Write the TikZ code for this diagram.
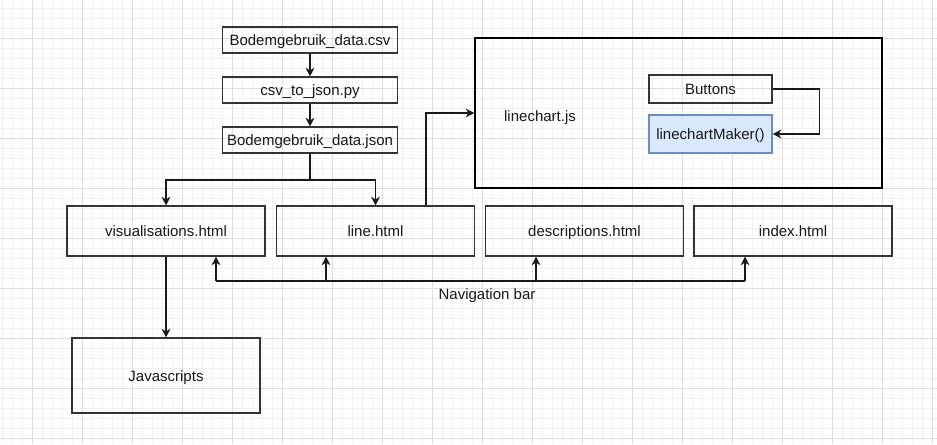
\documentclass[tikz,border=0pt]{standalone}
\usepackage{fontspec}
\setmainfont{Liberation Sans}
\usetikzlibrary{arrows.meta}
\definecolor{boxline}{HTML}{333333}
\definecolor{bluefill}{HTML}{DAE8FC}
\definecolor{blueline}{HTML}{6C8EBF}
\begin{document}
\begin{tikzpicture}[x=0.75pt, y=-0.75pt,
    every node/.style={font=\fontsize{11.25pt}{13pt}\selectfont, text=black!90, text height=10pt, text depth=1.4pt},
    file/.style={draw=boxline, line width=0.8pt, minimum width=131.25pt, minimum height=19.5pt, inner sep=0pt},
    page/.style={draw=boxline, line width=0.8pt, minimum width=148.5pt, minimum height=37.5pt, inner sep=0pt},
    link/.style={line width=1.1pt, black!90, -{Stealth[length=6.5pt, width=6.5pt, inset=2pt]}},
    gridminor/.style={black!5, line width=0.5pt},
    gridmajor/.style={black!13, line width=0.6pt}]
  \useasboundingbox (0,0) rectangle (937,444);
  \fill[white] (0,0) rectangle (937,444);
  % background grid
  \foreach \x in {2,12,...,932} \draw[gridminor] (\x,0) -- (\x,444);
  \foreach \y in {8,18,...,438} \draw[gridminor] (0,\y) -- (937,\y);
  \foreach \x in {32,82,...,932} \draw[gridmajor] (\x,0) -- (\x,444);
  \foreach \y in {38,88,...,438} \draw[gridmajor] (0,\y) -- (937,\y);

  % data files
  \node[file] (csv) at (310,40) {Bodemgebruik\_data.csv};
  \node[file] (py) at (310,90) {csv\_to\_json.py};
  \node[file] (json) at (310,140) {Bodemgebruik\_data.json};
  \draw[link] (csv) -- (py);
  \draw[link] (py) -- (json);

  % pages
  \node[page] (vis) at (166,231) {visualisations.html};
  \node[page] (line) at (375.5,231) {line.html};
  \node[page] (desc) at (584.5,231) {descriptions.html};
  \node[page] (index) at (793,231) {index.html};
  \node[draw=boxline, line width=0.8pt, minimum width=141pt, minimum height=56.25pt] (js) at (166,375.5) {Javascripts};

  \coordinate (split) at (310,180);
  \draw[line width=1.1pt, black!90] (json) -- (split);
  \draw[link] (split) -| (vis);
  \draw[link] (split) -| (line);
  \draw[link] (vis) -- (js);

  % linechart.js
  \node[draw=black, line width=0.9pt, minimum width=305.25pt, minimum height=112.5pt] (linechart) at (678.5,113) {};
  \node (chartlabel) at (540,116) {linechart.js};
  \node[draw=boxline, line width=0.8pt, minimum width=92.25pt, minimum height=21pt] (buttons) at (710.5,89) {Buttons};
  \node[draw=blueline, fill=bluefill, line width=0.8pt, minimum width=92.25pt, minimum height=28.5pt] (maker) at (710.5,134) {linechartMaker()};
  \draw[link] ([xshift=-36.75pt]line.north east) |- (linechart.west);
  \draw[link] (buttons.east) -- ++(47,0) |- (maker.east);

  % navigation bar
  \coordinate (navl) at (216,281);
  \coordinate (navr) at (745,281);
  \draw[line width=1.1pt, black!90] (navl) -- (navr);
  \foreach \x/\t in {216/vis, 326/line, 536/desc, 745/index}
    \draw[link] (\x,281) -- (\x,281 |- \t.south);
  \node (navlabel) at (487,294) {Navigation bar};
\end{tikzpicture}
\end{document}
